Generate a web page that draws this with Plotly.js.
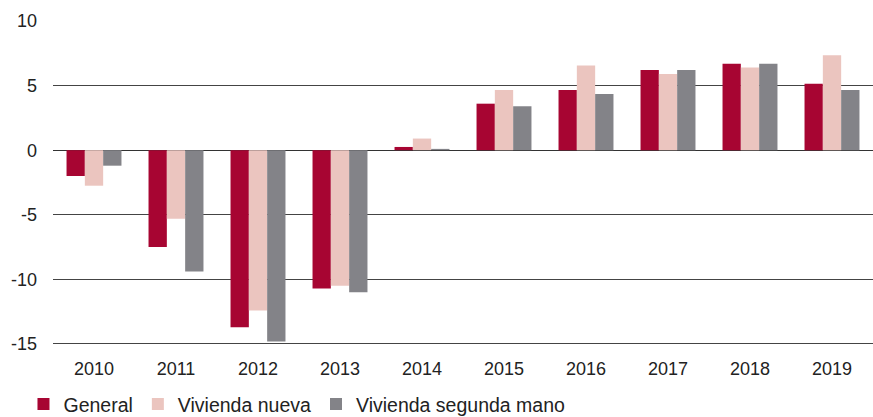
<!DOCTYPE html>
<html>
<head>
<meta charset="utf-8">
<script src="https://cdn.plot.ly/plotly-3.0.1.min.js"></script>
<style>html,body{margin:0;padding:0;background:#fff;}#chart{width:873px;height:417px;}</style>
</head>
<body>
<div id="chart"></div>
<script>
const years = ['2010','2011','2012','2013','2014','2015','2016','2017','2018','2019'];
const general = [-2.0, -7.5, -13.7, -10.7, 0.25, 3.6, 4.65, 6.2, 6.7, 5.15];
const viviendaNueva = [-2.75, -5.3, -12.4, -10.5, 0.9, 4.65, 6.55, 5.9, 6.4, 7.35];
const viviendaSegunda = [-1.2, -9.4, -14.8, -11.0, 0.1, 3.4, 4.35, 6.2, 6.7, 4.65];
const seriesNames = ['General', 'Vivienda nueva', 'Vivienda segunda mano'];
const yTickVals = [10, 5, 0, -5, -10, -15];
const yTickText = ['10', '5', '0', '-5', '-10', '-15'];

const colors = ['#A70532', '#EBC5BF', '#838388'];
const series = [general, viviendaNueva, viviendaSegunda];

const traces = series.map((vals, i) => ({
  type: 'bar',
  name: seriesNames[i],
  x: years,
  y: vals,
  marker: {color: colors[i], line: {width: 0}},
  hoverinfo: 'none'
}));

const layout = {
  width: 873,
  height: 417,
  margin: {l: 53, r: 0, t: 21, b: 72, pad: 0, autoexpand: false},
  paper_bgcolor: '#fff',
  plot_bgcolor: '#fff',
  font: {family: '"Liberation Sans", Arial, sans-serif', color: '#222', size: 18},
  barmode: 'group',
  bargap: 0.33,
  bargroupgap: 0,
  showlegend: true,
  legend: {
    orientation: 'h',
    x: -0.036, xanchor: 'left',
    y: -0.2435, yanchor: 'bottom',
    font: {size: 19.5, color: '#222'},
    bgcolor: 'rgba(0,0,0,0)',
    borderwidth: 0,
    traceorder: 'normal'
  },
  xaxis: {
    type: 'category',
    showgrid: false,
    zeroline: false,
    showline: false,
    ticks: '',
    tickfont: {size: 18, color: '#222'},
    ticklabelstandoff: 11
  },
  yaxis: {
    range: [-15.08, 10],
    tickvals: yTickVals,
    ticktext: yTickText,
    showgrid: true,
    gridcolor: '#444',
    gridwidth: 1,
    zeroline: true,
    zerolinecolor: '#333',
    zerolinewidth: 1,
    showline: false,
    ticks: '',
    tickfont: {size: 18, color: '#222'},
    ticklabelstandoff: 15
  }
};

Plotly.newPlot('chart', traces, layout, {displayModeBar: false, staticPlot: true});
</script>
</body>
</html>
